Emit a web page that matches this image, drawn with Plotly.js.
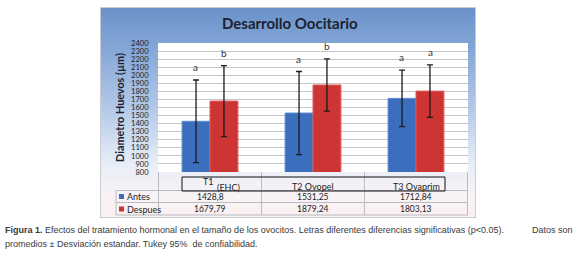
<!DOCTYPE html>
<html><head><meta charset="utf-8">
<script src="https://cdn.plot.ly/plotly-3.0.1.min.js"></script>
<style>
html,body{margin:0;padding:0;background:#fff;}
#wrap{position:relative;width:578px;height:258px;}
#bgbox{position:absolute;left:100px;top:7px;width:376px;height:211px;box-sizing:border-box;border:1px solid #c9cdd3;
background:linear-gradient(to bottom,#6a92c9 0%,#86a7d7 20%,#b7cbe8 50%,#e8eef7 75%,#f8f3f5 90%,#fbeff0 100%);}
#chart{position:absolute;left:0;top:0;width:578px;height:258px;}
</style></head>
<body><div id="wrap"><div id="bgbox"></div><div id="chart"></div></div>
<script>
const categories = ["T1 (EHC)", "T2 Ovopel", "T3 Ovaprim"];
const categoryMain = ["T1", "T2 Ovopel", "T3 Ovaprim"];
const categorySub = ["(EHC)", "", ""];
const seriesNames = ["Antes", "Despues"];
const antes = [1428.8, 1531.25, 1712.84];
const despues = [1679.79, 1879.24, 1803.13];
const antesSD = [512, 515, 350];
const despuesSD = [440, 323, 326];
const antesLetters = ["a", "a", "a"];
const despuesLetters = ["b", "b", "a"];
const yTicks = [800,900,1000,1100,1200,1300,1400,1500,1600,1700,1800,1900,2000,2100,2200,2300,2400];
const captionBold = "Figura 1.";
const captionLine1 = " Efectos del tratamiento hormonal en el tamaño de los ovocitos. Letras diferentes diferencias significativas (p<0.05).";
const captionLine1End = "Datos son";
const captionLine2 = "promedios ± Desviación estandar. Tukey 95%  de confiabilidad.";

const W = 578, H = 258;
const M = {l:158, r:110, t:43, b:86};
const pw = W - M.l - M.r, ph = H - M.t - M.b;
const px = v => (v - M.l) / pw;
const py = v => (H - M.b - v) / ph;
const fmt = v => String(v).replace('.', ',');
const FONT = "Lato, 'Open Sans', sans-serif";
const CAPFONT = "'Liberation Sans', Arial, sans-serif";
const BLUE = "#3b6fbd", RED = "#cc3533";

const traces = [
  {type:'bar', name:seriesNames[0], x:categories, y:antes,
   marker:{color:BLUE, line:{color:'#5a8ad0', width:1}},
   error_y:{type:'data', array:antesSD, visible:true, color:'#1b1b1b', thickness:1.3, width:3}},
  {type:'bar', name:seriesNames[1], x:categories, y:despues,
   marker:{color:RED, line:{color:'#df5a57', width:1}},
   error_y:{type:'data', array:despuesSD, visible:true, color:'#1b1b1b', thickness:1.3, width:3}}
];

const ann = [];
const shapes = [];
const offset = pw / 3 * (1 - 0.458) / 4;
categories.forEach((c, i) => {
  ann.push({x:c, y:antes[i] + antesSD[i], xref:'x', yref:'y', text:antesLetters[i], showarrow:false,
    xshift:-offset, yshift:5, yanchor:'bottom', font:{family:FONT, size:10, color:'#333'}});
  ann.push({x:c, y:despues[i] + despuesSD[i], xref:'x', yref:'y', text:despuesLetters[i], showarrow:false,
    xshift:offset, yshift:5, yanchor:'bottom', font:{family:FONT, size:10, color:'#333'}});
  // table category label
  const hasSub = categorySub[i] !== "";
  ann.push({x:c, y:py(hasSub ? 181 : 186.5), xref:'x', yref:'paper', text:categoryMain[i], showarrow:false,
    yanchor:'middle', xshift:hasSub ? -2 : 0, font:{family:FONT, size:9, color:'#222'}});
  if (hasSub) {
    ann.push({x:c, y:py(187.5), xref:'x', yref:'paper', text:categorySub[i], showarrow:false,
      yanchor:'middle', xshift:18, font:{family:FONT, size:9, color:'#222'}});
  }
  ann.push({x:c, y:py(196.5), xref:'x', yref:'paper', text:fmt(antes[i]), showarrow:false,
    yanchor:'middle', font:{family:FONT, size:8.5, color:'#222'}});
  ann.push({x:c, y:py(209), xref:'x', yref:'paper', text:fmt(despues[i]), showarrow:false,
    yanchor:'middle', font:{family:FONT, size:8.5, color:'#222'}});
});
// legend cells
[[seriesNames[0], BLUE, 196.5], [seriesNames[1], RED, 209]].forEach(([n, col, yy]) => {
  ann.push({x:px(125), y:py(yy), xref:'paper', yref:'paper', text:n, showarrow:false, xanchor:'left',
    yanchor:'middle', font:{family:FONT, size:9, color:'#222'}});
  shapes.push({type:'rect', xref:'paper', yref:'paper', x0:px(119), x1:px(124), y0:py(yy+2.5), y1:py(yy-2.5),
    fillcolor:col, line:{width:0}});
});
// table grid
const gc = '#b9bcc2';
[-0.5, 0.5, 1.5, 2.5].forEach(xv => {
  shapes.push({type:'line', xref:'x', yref:'paper', x0:xv, x1:xv, y0:0, y1:py(215), line:{color:gc, width:1}});
});
shapes.push({type:'line', xref:'paper', yref:'paper', x0:px(116), x1:px(116), y0:py(190.5), y1:py(215), line:{color:gc, width:1}});
[190.5, 202.5, 215].forEach(yy => {
  shapes.push({type:'line', xref:'paper', yref:'paper', x0:px(116), x1:1, y0:py(yy), y1:py(yy), line:{color:gc, width:1}});
});
// category label box
shapes.push({type:'rect', xref:'paper', yref:'paper', x0:px(182), x1:px(445), y0:py(191), y1:py(177),
  line:{color:'#111', width:1}, fillcolor:'rgba(0,0,0,0)'});
// title
ann.push({x:px(290), y:py(23), xref:'paper', yref:'paper', text:'<b>Desarrollo Oocitario</b>', showarrow:false,
  yanchor:'middle', font:{family:FONT, size:15, color:'#1c2330'}});
// caption
ann.push({x:px(3), y:py(230), xref:'paper', yref:'paper', xanchor:'left', yanchor:'middle', showarrow:false,
  text:'<b>' + captionBold + '</b>' + captionLine1, font:{family:CAPFONT, size:9, color:'#3a3a3a'}});
ann.push({x:px(575), y:py(230), xref:'paper', yref:'paper', xanchor:'right', yanchor:'middle', showarrow:false,
  text:captionLine1End, font:{family:CAPFONT, size:9, color:'#3a3a3a'}});
ann.push({x:px(3), y:py(244), xref:'paper', yref:'paper', xanchor:'left', yanchor:'middle', showarrow:false,
  text:captionLine2, font:{family:CAPFONT, size:9, color:'#3a3a3a'}});

const layout = {
  width:W, height:H, margin:M, showlegend:false,
  paper_bgcolor:'rgba(0,0,0,0)', plot_bgcolor:'#ffffff',
  barmode:'group', bargap:0.458, bargroupgap:0,
  xaxis:{type:'category', showticklabels:false, showgrid:false, zeroline:false, showline:false, ticks:''},
  yaxis:{range:[800, 2400], tickvals:yTicks, ticktext:yTicks.map(String), showgrid:true, gridcolor:'#c6c6c6', gridwidth:1,
    zeroline:false, showline:false, ticks:'outside', ticklen:7, tickcolor:'rgba(0,0,0,0)',
    tickfont:{family:FONT, size:7.5, color:'#222'},
    title:{text:'<b>Diametro Huevos (µm)</b>', font:{family:FONT, size:10.8, color:'#1c2330'}, standoff:4}},
  annotations:ann, shapes:shapes
};
Plotly.newPlot('chart', traces, layout, {staticPlot:true, displayModeBar:false});
</script></body></html>
